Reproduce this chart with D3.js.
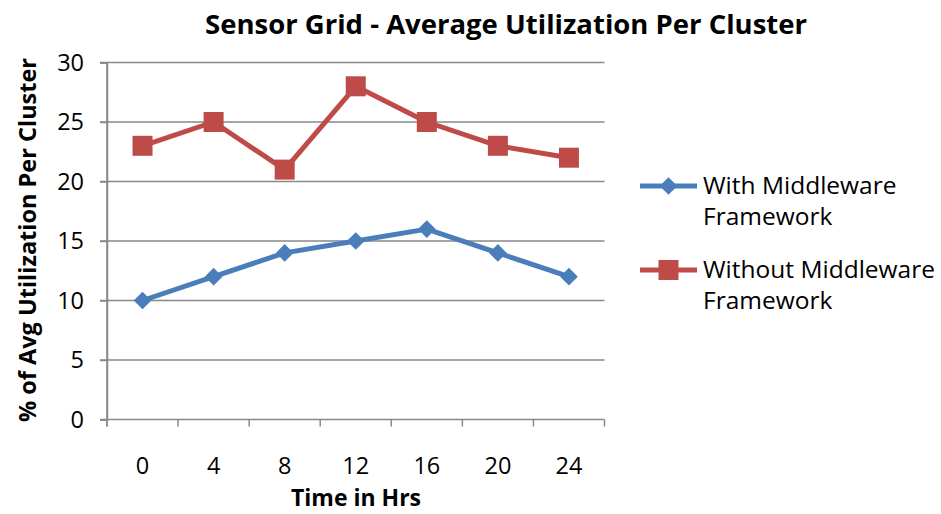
<!DOCTYPE html>
<html>
<head>
<meta charset="utf-8">
<script src="https://cdn.jsdelivr.net/npm/d3@7"></script>
<style>
  body { margin: 0; background: #fff; }
  svg { display: block; font-family: "Open Sans", Lato, sans-serif; }
</style>
</head>
<body>
<svg id="chart" width="941" height="514"></svg>
<script>
const categories = ["0", "4", "8", "12", "16", "20", "24"];
const withMiddleware = [10, 12, 14, 15, 16, 14, 12];
const withoutMiddleware = [23, 25, 21, 28, 25, 23, 22];
const yTicks = [0, 5, 10, 15, 20, 25, 30];
const seriesNames = ["With Middleware Framework", "Without Middleware Framework"];
const legendLines = [["With Middleware", "Framework"], ["Without Middleware", "Framework"]];
const titleText = "Sensor Grid - Average Utilization Per Cluster";
const xTitle = "Time in Hrs";
const yTitle = "% of Avg Utilization Per Cluster";

(function () {
const svg = d3.select("#chart");
const pLeft = 107, pRight = 604.5, pTop = 62.5, pBottom = 419.5;
const gridColor = "#898989";
const colors = ["#4A7EBB", "#BE4B48"];
const font = "'Open Sans', Lato, sans-serif";

const x = d3.scaleBand().domain(categories).range([pLeft, pRight]).padding(0);
const y = d3.scaleLinear().domain([0, 30]).range([pBottom, pTop]);

// gridlines
svg.append("g").selectAll("line").data(yTicks.filter(d => d > 0)).join("line")
  .attr("x1", pLeft - 7).attr("x2", pRight)
  .attr("y1", d => y(d)).attr("y2", d => y(d))
  .attr("stroke", gridColor).attr("stroke-width", 1.5);

// y axis
const yAxis = d3.axisLeft(y).tickValues(yTicks).tickSize(7).tickPadding(8);
const gy = svg.append("g").attr("transform", `translate(${pLeft},0)`).call(yAxis);
gy.select(".domain").attr("stroke", gridColor).attr("stroke-width", 1.5);
gy.selectAll(".tick line").attr("stroke", gridColor).attr("stroke-width", 1.5);
gy.selectAll(".tick text").attr("font-size", 23.5).attr("fill", "#000").attr("font-family", font).attr("dx", -8);

// x axis with ticks between categories
svg.append("line").attr("x1", pLeft - 7).attr("x2", pRight).attr("y1", pBottom).attr("y2", pBottom)
  .attr("stroke", gridColor).attr("stroke-width", 1.5);
const boundaries = categories.map(c => x(c)).concat([pRight]);
svg.append("g").selectAll("line").data(boundaries).join("line")
  .attr("x1", d => d).attr("x2", d => d).attr("y1", pBottom).attr("y2", pBottom + 7)
  .attr("stroke", gridColor).attr("stroke-width", 1.5);
svg.append("line").attr("x1", pLeft).attr("x2", pLeft).attr("y1", pTop).attr("y2", pBottom + 7)
  .attr("stroke", gridColor).attr("stroke-width", 1.5);
svg.append("g").selectAll("text").data(categories).join("text")
  .attr("x", d => x(d) + x.bandwidth() / 2).attr("y", 474)
  .attr("text-anchor", "middle").attr("font-size", 23.5).text(d => d);

// titles
svg.append("text").attr("x", 506).attr("y", 34).attr("text-anchor", "middle")
  .attr("font-size", 27.5).attr("font-weight", "bold").text(titleText);
svg.append("text").attr("x", 356).attr("y", 506).attr("text-anchor", "middle")
  .attr("font-size", 23).attr("font-weight", "bold").text(xTitle);
svg.append("text").attr("transform", "translate(36,240) rotate(-90)").attr("text-anchor", "middle")
  .attr("font-size", 23.5).attr("font-weight", "bold").text(yTitle);

// series
const cx = (d, i) => x(categories[i]) + x.bandwidth() / 2;
const line = d3.line().x((d, i) => cx(d, i)).y(d => y(d));
const seriesData = [withMiddleware, withoutMiddleware];
const symbols = [d3.symbolDiamond2, d3.symbolSquare];
const symSizes = [200, 400];

seriesData.forEach((vals, s) => {
  svg.append("path").datum(vals).attr("d", line)
    .attr("fill", "none").attr("stroke", colors[s]).attr("stroke-width", 5)
    .attr("stroke-linejoin", "round");
});
seriesData.forEach((vals, s) => {
  svg.append("g").selectAll("path").data(vals).join("path")
    .attr("transform", (d, i) => `translate(${cx(d, i)},${y(d)})`)
    .attr("d", d3.symbol().type(symbols[s]).size(symSizes[s]))
    .attr("fill", colors[s]);
});

// legend
const legendY = [186, 270];
seriesNames.forEach((name, s) => {
  const g = svg.append("g");
  g.append("line").attr("x1", 640).attr("x2", 697).attr("y1", legendY[s]).attr("y2", legendY[s])
    .attr("stroke", colors[s]).attr("stroke-width", 5);
  g.append("path").attr("transform", `translate(668.5,${legendY[s]})`)
    .attr("d", d3.symbol().type(symbols[s]).size(symSizes[s])).attr("fill", colors[s]);
  legendLines[s].forEach((t, k) => {
    g.append("text").attr("x", 703).attr("y", legendY[s] + 8 + k * 31)
      .attr("font-size", 24.5).text(t);
  });
});
})();
</script>
</body>
</html>
